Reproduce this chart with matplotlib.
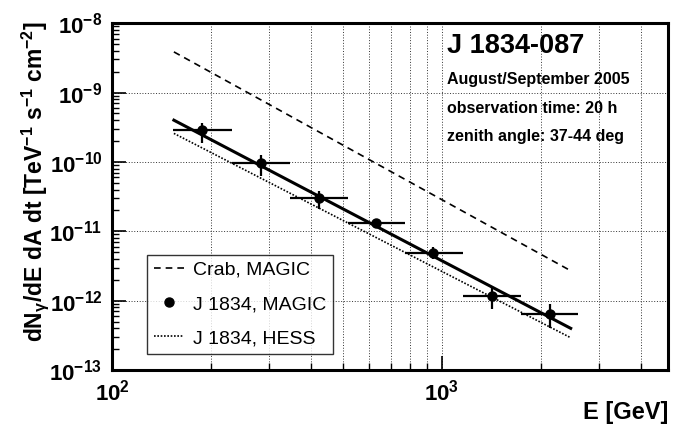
import numpy as np
import matplotlib
matplotlib.use('Agg')
import matplotlib.pyplot as plt
from matplotlib.ticker import LogLocator, NullFormatter, FixedLocator
from matplotlib.lines import Line2D

plt.rcParams['font.family'] = ['Liberation Sans', 'DejaVu Sans']
plt.rcParams['mathtext.fontset'] = 'custom'
plt.rcParams['mathtext.rm'] = 'Liberation Sans:bold'
plt.rcParams['mathtext.bf'] = 'Liberation Sans:bold'
plt.rcParams['mathtext.it'] = 'Liberation Sans:bold'

# J 1834 MAGIC spectral points (GeV, TeV^-1 s^-1 cm^-2)
energy = [187, 283, 424, 631, 940, 1419, 2124]
e_lo = [153, 231, 346, 519, 773, 1158, 1734]
e_hi = [231, 346, 519, 773, 1158, 1734, 2582]
flux = [2.87e-10, 9.5e-11, 2.98e-11, 1.32e-11, 4.89e-12, 1.16e-12, 6.4e-13]
flux_lo = [1.87e-10, 6.24e-11, 2.09e-11, 1.19e-11, 3.97e-12, 7.57e-13, 4.03e-13]
flux_hi = [3.62e-10, 1.25e-10, 3.84e-11, 1.45e-11, 5.98e-12, 1.57e-12, 8.93e-13]

# power-law lines, endpoints only
fit_E = [154, 2455]
fit_flux = [4.0e-10, 3.99e-13]
crab_E = [154, 2455]
crab_flux = [3.86e-9, 2.7e-12]
hess_E = [154, 2455]
hess_flux = [2.58e-10, 2.92e-13]

fig = plt.figure(figsize=(6.83, 4.3), dpi=100)
ax = fig.add_axes([0.164, 0.1395, 0.814, 0.8065])
ax.set_xscale('log')
ax.set_yscale('log')
ax.set_xlim(100, 4840)
ax.set_ylim(1e-13, 1e-8)

# grid
xgrid = [200, 300, 400, 500, 600, 700, 800, 900, 1000, 2000, 3000, 4000]
for xv in xgrid:
    ax.axvline(xv, color='#333333', lw=0.7, ls=(0, (1, 1.8)), zorder=0)
for yv in [1e-12, 1e-11, 1e-10, 1e-9]:
    ax.axhline(yv, color='#333333', lw=0.7, ls=(0, (1, 1.8)), zorder=0)

ax.plot(crab_E, crab_flux, color='black', lw=1.2, ls=(0, (4, 3)))
ax.plot(hess_E, hess_flux, color='black', lw=1.2, ls=(0, (1, 1)))
ax.plot(fit_E, fit_flux, color='black', lw=2.2)

xerr = [np.array(energy) - np.array(e_lo), np.array(e_hi) - np.array(energy)]
yerr = [np.array(flux) - np.array(flux_lo), np.array(flux_hi) - np.array(flux)]
ax.errorbar(energy, flux, xerr=xerr, yerr=yerr, fmt='o', color='black',
            ms=6.5, elinewidth=1.6, capsize=0, zorder=5)

# axes style
for s in ax.spines.values():
    s.set_linewidth(2.2)
ax.tick_params(which='both', direction='in', top=False, right=False)
ax.tick_params(which='major', length=10, width=1.2, labelsize=16, pad=7)
ax.tick_params(which='minor', length=5, width=1.0)
ax.xaxis.set_major_locator(FixedLocator([100, 1000]))
ax.xaxis.set_minor_locator(LogLocator(base=10, subs=np.arange(2, 10)))
ax.xaxis.set_minor_formatter(NullFormatter())
ax.yaxis.set_major_locator(LogLocator(base=10, numticks=10))
ax.yaxis.set_minor_locator(LogLocator(base=10, subs=np.arange(2, 10), numticks=10))
ax.yaxis.set_minor_formatter(NullFormatter())
ax.set_xticklabels([r'$10^{2}$', r'$10^{3}$'])
ax.set_yticks([1e-13, 1e-12, 1e-11, 1e-10, 1e-9, 1e-8])
ax.set_yticklabels([r'$10^{-13}$', r'$10^{-12}$', r'$10^{-11}$', r'$10^{-10}$',
                    r'$10^{-9}$', r'$10^{-8}$'])

fig.text(0.052, 0.577, r'dN$_\gamma$/dE dA dt [TeV$^{-1}$ s$^{-1}$ cm$^{-2}$]',
         rotation=90, ha='center', va='center', fontsize=16.5, fontweight='bold')
fig.text(0.978, 0.04, 'E [GeV]', ha='right', va='center', fontsize=17, fontweight='bold')

# annotations
ax.text(0.602, 0.934, 'J 1834-087', transform=ax.transAxes, fontsize=19.5,
        fontweight='bold', va='center')
ax.text(0.602, 0.837, 'August/September 2005', transform=ax.transAxes, fontsize=11.5,
        fontweight='bold', va='center')
ax.text(0.602, 0.755, 'observation time: 20 h', transform=ax.transAxes, fontsize=11.5,
        fontweight='bold', va='center')
ax.text(0.602, 0.673, 'zenith angle: 37-44 deg', transform=ax.transAxes, fontsize=11.5,
        fontweight='bold', va='center')

handles = [
    Line2D([], [], color='black', lw=1.2, ls=(0, (4, 3))),
    Line2D([], [], color='black', marker='o', ls='none', ms=6.5),
    Line2D([], [], color='black', lw=1.2, ls=(0, (1, 1))),
]
labels = ['Crab, MAGIC', 'J 1834, MAGIC', 'J 1834, HESS']
leg = ax.legend(handles, labels, loc='lower left', bbox_to_anchor=(0.063, 0.046),
                fontsize=14, frameon=True, fancybox=False, handlelength=1.55,
                handletextpad=0.45, labelspacing=0.85, borderpad=0.35, borderaxespad=0)
leg.get_frame().set_edgecolor('black')
leg.get_frame().set_linewidth(1.0)

fig.savefig('out.png', dpi=100)
